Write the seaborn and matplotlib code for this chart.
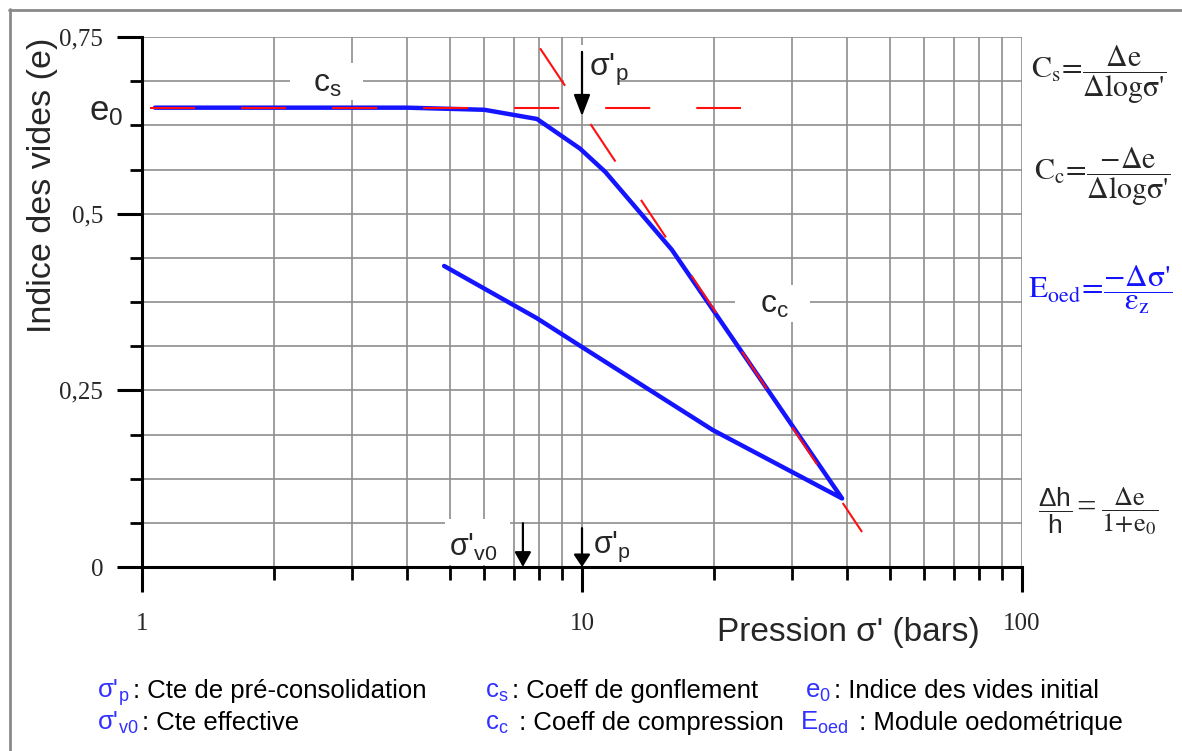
import numpy as np
import pandas as pd
import matplotlib
matplotlib.use("Agg")
import matplotlib.pyplot as plt
from matplotlib.lines import Line2D
from matplotlib.patches import Rectangle
from matplotlib.ticker import NullFormatter
import seaborn as sns

# ---- data -------------------------------------------------------------
# loading branch of the oedometer curve (pressure in bars, void ratio e)
load_sigma = [1.07, 4.0, 6.0, 7.9, 9.9, 11.3, 16.0, 39.0]
load_e = [0.650, 0.650, 0.647, 0.634, 0.592, 0.559, 0.449, 0.097]
# unloading branch
unload_sigma = [39.0, 19.8, 9.9, 7.9, 4.86]
unload_e = [0.097, 0.194, 0.313, 0.352, 0.426]

e0 = 0.65
sigma_p = 10.0
sigma_v0 = 7.34

# tangent lines: swelling (horizontal at e0) and virgin compression
cs_sigma = [1.043, 23.0]
cs_e = [e0, e0]
cc_sigma = [8.03, 43.3]
cc_e = [0.734, 0.0495]

x_ticks = [1, 10, 100]
x_ticklabels = ["1", "10", "100"]
y_ticks = [0, 0.25, 0.5, 0.75]
y_ticklabels = ["0", "0,25", "0,5", "0,75"]

# ---- style ------------------------------------------------------------
sns.set_style("white")
plt.rcParams["font.family"] = ["Liberation Sans", "DejaVu Sans"]
plt.rcParams["mathtext.fontset"] = "custom"
plt.rcParams["mathtext.rm"] = "Liberation Sans"
plt.rcParams["mathtext.it"] = "Liberation Sans:italic"
plt.rcParams["mathtext.bf"] = "Liberation Sans:bold"
plt.rcParams["mathtext.sf"] = "Liberation Sans"

BLUE = "#1414ff"
RED = "#ff1010"
GRID = "#8e8e8e"
LEG_BLUE = "#3030ff"

W, H = 1182, 751
fig = plt.figure(figsize=(W / 100, H / 100), dpi=100)


def fx(px):
    return px / W


def fy(py):
    return 1 - py / H


ax = fig.add_axes([fx(142), fy(567), (1022 - 142) / W, (567 - 37) / H])

# ---- curves -----------------------------------------------------------
curve = pd.DataFrame({
    "sigma": load_sigma + unload_sigma[1:],
    "e": load_e + unload_e[1:],
})
sns.lineplot(data=curve, x="sigma", y="e", sort=False, estimator=None,
             color=BLUE, lw=3.2, ax=ax, zorder=3, solid_joinstyle="round")

dash = (0, (21.6, 22.1))
ax.plot(cs_sigma, cs_e, color=RED, lw=1.5, linestyle=dash, zorder=4)
ax.plot(cc_sigma, cc_e, color=RED, lw=1.5, linestyle=dash, zorder=4)

# ---- axes -------------------------------------------------------------
ax.set_xscale("log")
ax.set_xlim(1, 100)
ax.set_ylim(0, 0.75)
ax.set_xticks(x_ticks, x_ticklabels)
ax.set_xticks([v * m for m in (1, 10) for v in range(2, 10)], minor=True)
ax.xaxis.set_minor_formatter(NullFormatter())
ax.set_yticks(y_ticks, y_ticklabels)
ax.set_yticks(np.linspace(0, 0.75, 13), minor=True)
ax.yaxis.set_minor_formatter(NullFormatter())
ax.set_xlabel("")
ax.set_ylabel("")

ax.tick_params(which="both", bottom=True, left=True, top=False, right=False)
ax.tick_params(which="major", direction="out", length=18, width=2.2,
               color="black", labelsize=18, labelfontfamily="Liberation Serif")
ax.tick_params(axis="y", which="major", pad=10)
ax.tick_params(axis="x", which="major", pad=15)
ax.tick_params(which="minor", direction="out", length=9, width=2.0, color="black")

for side in ("top", "right"):
    ax.spines[side].set_visible(False)
for side in ("left", "bottom"):
    ax.spines[side].set_linewidth(2.2)
    ax.spines[side].set_color("black")
    ax.spines[side].set_zorder(5)

ax.set_axisbelow(True)
ax.grid(True, which="both", color=GRID, lw=1.2)


# white boxes behind in-plot labels
def white_box(x0, y0, x1, y1):
    ax.add_patch(Rectangle((fx(x0), fy(y1)), (x1 - x0) / W, (y1 - y0) / H,
                           transform=fig.transFigure, fc="white", ec="none",
                           zorder=1.5))


white_box(290, 63, 363, 100)
white_box(735, 285, 810, 322)
white_box(445, 519, 510, 565)
white_box(564, 45, 618, 100)


# ---- arrows -----------------------------------------------------------
def arrow(x, y_from, y_to, hl, hw):
    ax.annotate("", xy=(x, y_to), xytext=(x, y_from),
                arrowprops=dict(arrowstyle=f"-|>,head_length={hl},head_width={hw}",
                                color="black", lw=1.6, shrinkA=0, shrinkB=0,
                                mutation_scale=1),
                annotation_clip=False, zorder=6)


arrow(sigma_p, 0.729, 0.638, 13, 5)
arrow(sigma_v0, 0.062, 0.0, 9, 5)
arrow(sigma_p, 0.055, 0.0, 7.5, 5)

# ---- in-plot labels ---------------------------------------------------
fig.text(fx(327), fy(84), r"$\mathrm{c}_\mathrm{s}$", fontsize=23,
         ha="center", va="center", zorder=7)
fig.text(fx(774), fy(305), r"$\mathrm{c}_\mathrm{c}$", fontsize=23,
         ha="center", va="center", zorder=7)
fig.text(fx(589), fy(70), r"$\mathrm{\sigma}\text{'}_\mathrm{p}$", fontsize=23,
         ha="left", va="center", zorder=7)
fig.text(fx(449), fy(547), r"$\mathrm{\sigma}\text{'}_\mathrm{v0}$", fontsize=22,
         ha="left", va="center", zorder=7)
fig.text(fx(593), fy(547), r"$\mathrm{\sigma}\text{'}_\mathrm{p}$", fontsize=22,
         ha="left", va="center", zorder=7)
fig.text(fx(106), fy(112), r"$\mathrm{e}_\mathrm{0}$", fontsize=25,
         ha="center", va="center")

# axis titles
fig.text(fx(43), fy(185), "Indice des vides (e)", fontsize=24.5,
         rotation=90, ha="center", va="center")
fig.text(fx(848), fy(633), "Pression σ' (bars)", fontsize=24,
         ha="center", va="center")

# ---- formulas on the right -------------------------------------------
fkw = dict(math_fontfamily="stix", ha="center", va="center")
fig.text(fx(1099), fy(75),
         r"$\mathrm{C}_\mathrm{s}\!=\!\dfrac{\Delta\mathrm{e}}{\Delta\mathrm{log}\mathrm{\sigma}\text{'}}$",
         fontsize=21.5, **fkw)
fig.text(fx(1102), fy(177),
         r"$\mathrm{C}_\mathrm{c}\!=\!\dfrac{-\Delta\mathrm{e}}{\Delta\mathrm{log}\mathrm{\sigma}\text{'}}$",
         fontsize=21.5, **fkw)
fig.text(fx(1100), fy(290),
         r"$\mathrm{E}_\mathrm{oed}\!=\!\dfrac{-\Delta\mathrm{\sigma}\text{'}}{\mathrm{\varepsilon}_\mathrm{z}}$",
         fontsize=22.5, color=BLUE, **fkw)
fig.text(fx(1055), fy(511), r"$\dfrac{\Delta\mathrm{h}}{\mathrm{h}}$",
         fontsize=19, math_fontfamily="custom", ha="center", va="center")
fig.text(fx(1086), fy(509), "=", fontsize=25, family="Liberation Serif",
         ha="center", va="center")
fig.text(fx(1130), fy(511), r"$\dfrac{\Delta\mathrm{e}}{1\!+\!\mathrm{e}_0}$",
         fontsize=19, **fkw)

# ---- bottom glossary --------------------------------------------------
glossary = [
    (97, 698, r"$\mathrm{\sigma}\text{'}_\mathrm{p}$", ": Cte de pré-consolidation"),
    (97, 730, r"$\mathrm{\sigma}\text{'}_\mathrm{v0}$", ": Cte effective"),
    (485, 698, r"$\mathrm{c}_\mathrm{s}$", ": Coeff de gonflement"),
    (485, 730, r"$\mathrm{c}_\mathrm{c}$", " : Coeff de compression"),
    (805, 698, r"$\mathrm{e}_\mathrm{0}$", ": Indice des vides initial"),
    (800, 730, r"$\mathrm{E}_\mathrm{oed}$", " : Module oedométrique"),
]
for gx, gy, sym, desc in glossary:
    s = fig.text(fx(gx), fy(gy), sym, fontsize=18.5, color=LEG_BLUE,
                 ha="left", va="baseline")
    ax.annotate(desc, xy=(1, H - gy), xycoords=(s, "figure pixels"),
                xytext=(2.5, 0), textcoords="offset points",
                fontsize=18.5, color="black", ha="left", va="baseline",
                annotation_clip=False)

# ---- outer frame ------------------------------------------------------
fig.add_artist(Line2D([fx(9), 1.0], [fy(10), fy(10)], color="#8a8a8a", lw=2))
fig.add_artist(Line2D([fx(10), fx(10)], [fy(9), 0.0], color="#8a8a8a", lw=2))

fig.savefig("out.png", dpi=100)
